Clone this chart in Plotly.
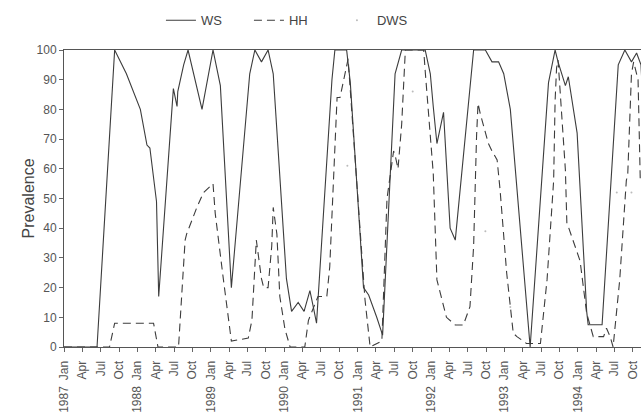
import plotly.graph_objects as go

# time in decimal years, prevalence in %
ws_t = [1987.00, 1987.45, 1987.69, 1987.85, 1988.04, 1988.13, 1988.17, 1988.26, 1988.29,
        1988.49, 1988.54, 1988.55, 1988.63, 1988.69, 1988.88, 1989.03, 1989.13, 1989.28,
        1989.53, 1989.60, 1989.69, 1989.78, 1989.85, 1990.03, 1990.10, 1990.19, 1990.27,
        1990.35, 1990.40, 1990.44, 1990.65, 1990.69, 1990.85, 1990.90, 1991.08, 1991.15,
        1991.26, 1991.34, 1991.51, 1991.60, 1991.92, 1991.99, 1992.03, 1992.08, 1992.17,
        1992.26, 1992.33, 1992.58, 1992.74, 1992.83, 1992.92, 1992.99, 1993.08, 1993.35,
        1993.60, 1993.69, 1993.73, 1993.83, 1993.87, 1993.99, 1994.12, 1994.14, 1994.33,
        1994.55, 1994.64, 1994.73, 1994.80, 1994.86, 1994.88]
ws_v = [0, 0, 100, 92, 80, 68, 67, 49, 17,
        87, 81, 86, 95, 100, 80, 100, 88, 20,
        92, 100, 96, 100, 92, 23, 12, 15, 12,
        19, 13, 8, 90, 100, 100, 89, 20, 17.5,
        10, 4, 92, 100, 100, 92, 81, 68.5, 79,
        40, 36, 100, 100, 96, 96, 92, 80, 0,
        89, 100, 96, 88, 91, 72, 12, 7.5, 7.5,
        95, 100, 96, 99, 95, 85]

hh_t = [1987.00, 1987.62, 1987.69, 1988.22, 1988.28, 1988.56, 1988.65, 1988.67, 1988.81,
        1988.90, 1989.03, 1989.06, 1989.17, 1989.28, 1989.51, 1989.56, 1989.62, 1989.69,
        1989.72, 1989.78, 1989.83, 1989.85, 1989.90, 1989.94, 1990.01, 1990.08, 1990.28,
        1990.33, 1990.46, 1990.58, 1990.62, 1990.67, 1990.72, 1990.76, 1990.81, 1990.85,
        1990.87, 1991.10, 1991.17, 1991.33, 1991.40, 1991.49, 1991.51, 1991.55, 1991.60,
        1991.65, 1991.90, 1991.92, 1991.96, 1992.03, 1992.08, 1992.21, 1992.33, 1992.44,
        1992.53, 1992.58, 1992.62, 1992.64, 1992.67, 1992.78, 1992.83, 1992.90, 1992.94,
        1993.03, 1993.12, 1993.17, 1993.30, 1993.49, 1993.58, 1993.67, 1993.69, 1993.71,
        1993.73, 1993.76, 1993.83, 1993.85, 1993.87, 1994.03, 1994.12, 1994.21, 1994.35,
        1994.39, 1994.44, 1994.48, 1994.57, 1994.66, 1994.68, 1994.73, 1994.76, 1994.82,
        1994.85]
hh_v = [0, 0, 8, 8, 0, 0, 36, 38, 47,
        52, 55, 45, 23, 2, 3, 9, 36, 23,
        20, 20, 34, 47, 38, 17, 6, 0, 0,
        9, 17, 17, 27, 53, 84, 84, 90, 94,
        97, 16, 0, 2, 50, 66, 64.6, 60, 75,
        100, 100, 93, 81, 58.5, 22.6, 10, 7.4, 7.4,
        13.6, 34, 71, 82, 78.6, 68.6, 66, 63, 53,
        25, 4.6, 3.5, 1.2, 1.2, 22.6, 56, 83, 94,
        96.6, 86.5, 59.6, 41.6, 40.5, 29, 11.3, 3.5, 3.5,
        6.3, 3.5, 0, 22.6, 56, 58.5, 92, 96, 90,
        56]

dws_t = [1990.86, 1991.75, 1992.74, 1993.08, 1994.53, 1994.73]
dws_v = [61, 86, 39, 13.5, 52, 52]

years = [1987, 1988, 1989, 1990, 1991, 1992, 1993, 1994]
quarters = ["Jan", "Apr", "Jul", "Oct"]
quarter_offsets = [0.0, 0.25, 0.5, 0.75]

tick_vals = []
tick_text = []
for y in years:
    for q, off in zip(quarters, quarter_offsets):
        tick_vals.append(y + off)
        tick_text.append(f"{y}\u2002{q}" if q == "Jan" else q)

line_col = "#3c3c3c"
font_fam = "Liberation Sans, Arial, sans-serif"

fig = go.Figure()
fig.add_trace(go.Scatter(x=ws_t, y=ws_v, mode="lines", name="WS",
                         line=dict(color=line_col, width=1.1)))
fig.add_trace(go.Scatter(x=hh_t, y=hh_v, mode="lines", name="HH",
                         line=dict(color=line_col, width=1.1, dash="8px,5px")))
fig.add_trace(go.Scatter(x=dws_t, y=dws_v, mode="markers", name="DWS",
                         marker=dict(color="#bbbbbb", size=2)))

fig.add_annotation(text="Prevalence", xref="paper", yref="paper",
                   x=-0.0607, y=0.5, xanchor="center", yanchor="middle",
                   textangle=-90, showarrow=False,
                   font=dict(size=16, color="#444444", family=font_fam))

fig.update_layout(
    width=641, height=413,
    margin=dict(l=64, r=0, t=50, b=66),
    paper_bgcolor="white", plot_bgcolor="white",
    font=dict(family=font_fam, color="#555555", size=12),
    showlegend=True,
    legend=dict(orientation="h", x=0.168, xanchor="left", y=1.10, yanchor="middle",
                font=dict(size=13, color="#444444"), entrywidth=43, entrywidthmode="pixels",
                bgcolor="rgba(0,0,0,0)", itemclick=False),
    xaxis=dict(range=[1987.0, 1994.86], tickvals=tick_vals, ticktext=tick_text,
               tickangle=-90, ticks="outside", ticklen=4, tickcolor="#666666",
               ticklabelstandoff=4,
               showline=True, linecolor="#555555", linewidth=1, mirror=True,
               showgrid=False, zeroline=False, tickfont=dict(size=12, color="#555555")),
    yaxis=dict(range=[0, 100], dtick=10, ticks="outside", ticklen=4, tickcolor="#666666",
               showline=True, linecolor="#555555", linewidth=1,
               showgrid=False, zeroline=False, tickfont=dict(size=12, color="#555555")),
)

fig.write_html("out.html")
